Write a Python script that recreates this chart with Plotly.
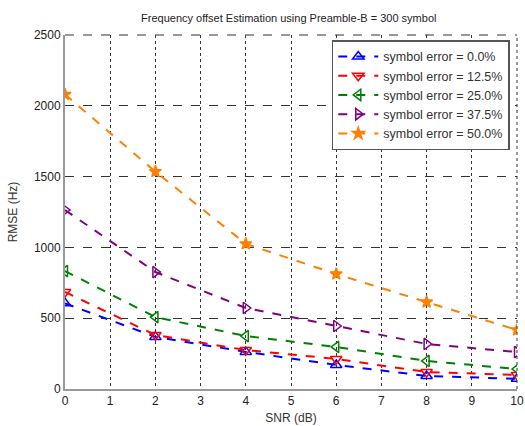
import plotly.graph_objects as go

snr = [0, 2, 4, 6, 8, 10]
err_0 = [605, 368, 262, 170, 92, 72]
err_12 = [685, 381, 275, 212, 120, 99]
err_25 = [833, 508, 374, 297, 198, 141]
err_37 = [1264, 826, 572, 445, 318, 261]
err_50 = [2080, 1535, 1025, 812, 614, 417]

names = ["symbol error = 0.0%", "symbol error = 12.5%", "symbol error = 25.0%",
         "symbol error = 37.5%", "symbol error = 50.0%"]
series = [err_0, err_12, err_25, err_37, err_50]
colors = ["#0000ff", "#ff0000", "#008000", "#800080", "#ff8000"]
symbols = ["triangle-up-open", "triangle-down-open", "triangle-left-open",
           "triangle-right-open", "star"]
sizes = [10, 10, 10, 10, 9]

fig = go.Figure()
for n, s, c, m, sz in zip(names, series, colors, symbols, sizes):
    fig.add_trace(go.Scatter(
        x=snr, y=s, name=n, mode="lines+markers",
        line=dict(color=c, width=2, dash="dash"),
        marker=dict(symbol=m, size=sz, color=c, line=dict(color=c, width=1.5)),
    ))

# dashed top and right frame lines (as in the reference box)
fig.add_shape(type="line", xref="paper", yref="paper", x0=0, x1=1, y0=1, y1=1,
              line=dict(color="#333", width=1, dash="dash"))
fig.add_shape(type="line", xref="paper", yref="paper", x0=1, x1=1, y0=0, y1=1,
              line=dict(color="#333", width=1, dash="dot"))

font = "Liberation Sans, Arial, sans-serif"
fig.update_layout(
    width=525, height=426,
    margin=dict(l=65, r=8, t=35, b=37),
    paper_bgcolor="white", plot_bgcolor="white",
    font=dict(family=font, size=12, color="#222"),
    title=dict(text="Frequency offset Estimation using Preamble-B = 300 symbol",
               x=0.55, xanchor="center", y=0.958, yanchor="middle",
               font=dict(size=11, color="#222")),
    showlegend=True,
    legend=dict(x=0.984, y=0.985, xanchor="right", yanchor="top",
                bgcolor="white", bordercolor="#555", borderwidth=1.5,
                itemwidth=40,
                font=dict(size=12.5, color="#333"), tracegroupgap=0),
    xaxis=dict(range=[0, 10], dtick=1, showgrid=True, gridcolor="#333",
               griddash="dot", gridwidth=1, zeroline=False, automargin=False,
               showline=True, linecolor="#999", linewidth=2, mirror=False,
               ticks="", tickfont=dict(size=12, color="#222"),
               title=dict(text="SNR (dB)", font=dict(size=12, color="#333"), standoff=6)),
    yaxis=dict(range=[0, 2500], dtick=500, showgrid=True, gridcolor="#333",
               griddash="dash", gridwidth=1, zeroline=False, automargin=False,
               showline=True, linecolor="#999", linewidth=2, mirror=False,
               ticks="", tickfont=dict(size=12, color="#222"),
               title=dict(text="RMSE (Hz)", font=dict(size=12, color="#333"), standoff=14)),
)
fig.write_html("out.html")
